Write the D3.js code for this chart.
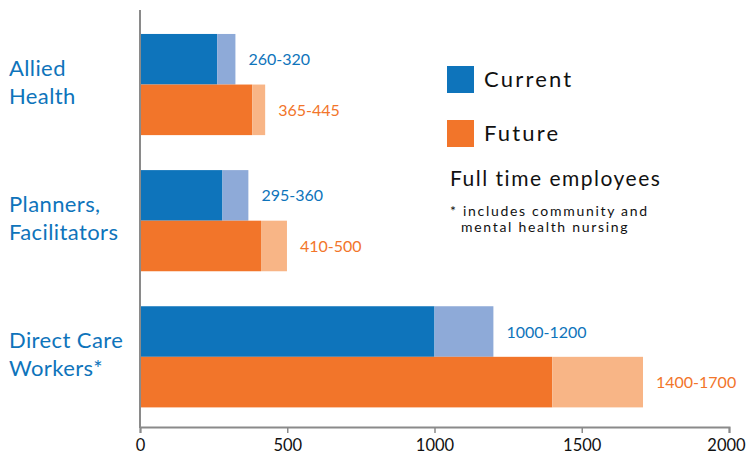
<!DOCTYPE html>
<html>
<head>
<meta charset="utf-8">
<script src="https://cdn.jsdelivr.net/npm/d3@7"></script>
<style>
  body { margin: 0; background: #fff; }
  svg text { font-family: Lato, "Noto Sans", sans-serif; }
</style>
</head>
<body>
<div id="chart"></div>
<script>
const categories = ['Allied Health', 'Planners, Facilitators', 'Direct Care Workers*']
const catLines = [['Allied', 'Health'], ['Planners,', 'Facilitators'], ['Direct Care', 'Workers*']]
const currentLow = [262, 280, 1000]
const currentHigh = [324, 368, 1200]
const futureLow = [381, 411, 1400]
const futureHigh = [425, 499, 1708]
const currentLabels = ['260-320', '295-360', '1000-1200']
const futureLabels = ['365-445', '410-500', '1400-1700']
const xTicks = [0, 500, 1000, 1500, 2000]

const W = 747, H = 456
const colors = {
  current: '#0e74bb', currentRange: '#8eaad8',
  future: '#f2752a', futureRange: '#f8b586'
}

const svg = d3.select('#chart').append('svg')
  .attr('width', W).attr('height', H)

const x = d3.scaleLinear().domain([0, 2000]).range([140, 729])
const y = d3.scaleBand().domain(categories).range([10, 427])
  .paddingInner(0.257).paddingOuter(0.16).align(0.55)
const sub = d3.scaleBand().domain(['current', 'future']).range([0, y.bandwidth()])

const series = [
  { key: 'current', low: currentLow, high: currentHigh, labels: currentLabels },
  { key: 'future', low: futureLow, high: futureHigh, labels: futureLabels }
]

const groups = svg.selectAll('g.grp').data(categories).join('g')
  .attr('class', 'grp')
  .attr('transform', d => `translate(0,${y(d)})`)

series.forEach(s => {
  // dark part: 0 to low end
  groups.append('rect')
    .attr('x', x(0))
    .attr('y', sub(s.key))
    .attr('width', (d, i) => x(s.low[i]) - x(0))
    .attr('height', sub.bandwidth())
    .attr('fill', colors[s.key])
  // light part: range low-high
  groups.append('rect')
    .attr('x', (d, i) => x(s.low[i]))
    .attr('y', sub(s.key))
    .attr('width', (d, i) => x(s.high[i]) - x(s.low[i]))
    .attr('height', sub.bandwidth())
    .attr('fill', colors[s.key + 'Range'])
  groups.append('text')
    .attr('x', (d, i) => x(s.high[i]) + 13)
    .attr('y', sub(s.key) + sub.bandwidth() / 2 + 6)
    .attr('fill', colors[s.key])
    .attr('font-size', 16)
    .text((d, i) => s.labels[i])
})

// category labels
groups.append('text')
  .attr('fill', colors.current)
  .attr('font-size', 22)
  .attr('letter-spacing', 0.4)
  .selectAll('tspan')
  .data((d, i) => catLines[i])
  .join('tspan')
  .attr('x', 9)
  .attr('y', (d, j) => y.bandwidth() / 2 - 9 + j * 28)
  .text(d => d)

// x axis
const xAxis = svg.append('g')
  .attr('transform', 'translate(0,427)')
  .call(d3.axisBottom(x).tickValues(xTicks).tickSize(6).tickPadding(6).tickFormat(d3.format('d')))
xAxis.select('.domain').attr('stroke', '#8a8a8a').attr('stroke-width', 2)
xAxis.selectAll('.tick line').attr('stroke', '#8a8a8a').attr('stroke-width', 1.5)
xAxis.selectAll('.tick text')
  .attr('font-size', 16.5).attr('fill', '#111')
  .style('font-family', 'Lato, "Noto Sans", sans-serif')
// last label sits close to the right edge
xAxis.selectAll('.tick text').filter(d => d === 2000).attr('dx', -3)

// y axis line
svg.append('line')
  .attr('x1', x(0)).attr('x2', x(0))
  .attr('y1', 10).attr('y2', 428)
  .attr('stroke', '#8a8a8a').attr('stroke-width', 2)

// legend
const legend = svg.append('g')
const legendItems = [{ key: 'current', name: 'Current', y: 66 }, { key: 'future', name: 'Future', y: 120 }]
legend.selectAll('rect').data(legendItems).join('rect')
  .attr('x', 447).attr('y', d => d.y)
  .attr('width', 27).attr('height', 27)
  .attr('fill', d => colors[d.key])
legend.selectAll('text.lg').data(legendItems).join('text')
  .attr('class', 'lg')
  .attr('x', 484).attr('y', d => d.y + 21)
  .attr('font-size', 22).attr('letter-spacing', 2.2).attr('fill', '#111')
  .text(d => d.name)

legend.append('text')
  .attr('x', 450).attr('y', 186)
  .attr('font-size', 21).attr('letter-spacing', 1.5).attr('fill', '#111')
  .text('Full time employees')
legend.append('text')
  .attr('x', 450).attr('y', 216)
  .attr('font-size', 14).attr('letter-spacing', 1.7).attr('fill', '#111')
  .text('* includes community and')
legend.append('text')
  .attr('x', 461).attr('y', 232)
  .attr('font-size', 14).attr('letter-spacing', 1.7).attr('fill', '#111')
  .text('mental health nursing')
</script>
</body>
</html>
